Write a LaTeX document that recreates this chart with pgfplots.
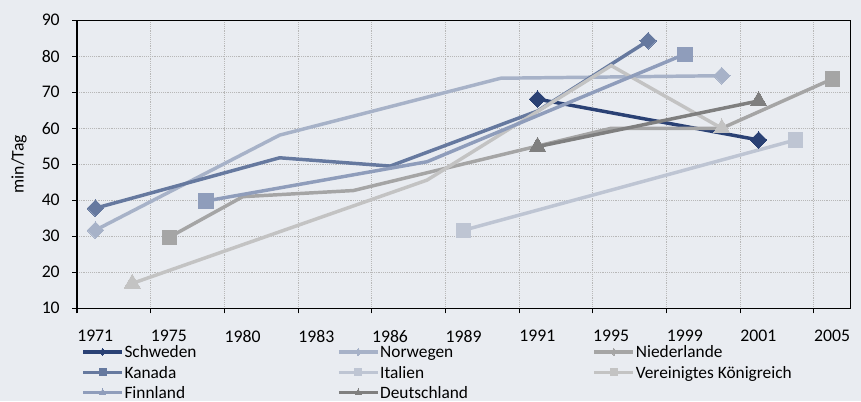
\documentclass[border=0pt]{standalone}
\usepackage{fontspec}
\setmainfont{Carlito}
\usepackage{pgfplots}
\pgfplotsset{compat=1.18}
\definecolor{bg}{HTML}{E9ECF1}
\definecolor{cSE}{HTML}{2A4174}
\definecolor{cNO}{HTML}{A7B2C8}
\definecolor{cNL}{HTML}{A5A5A5}
\definecolor{cCA}{HTML}{66799F}
\definecolor{cIT}{HTML}{BEC5D3}
\definecolor{cUK}{HTML}{C3C3C3}
\definecolor{cFI}{HTML}{8F9DBB}
\definecolor{cDE}{HTML}{7F7F7F}
\pgfplotsset{
  ser/.style={line width=2.6pt, color=#1, mark options={solid, fill=#1, draw=#1, line width=0pt}},
  dia/.style={mark=square*, mark size=4.4pt, every mark/.append style={rotate=45}},
  sq/.style={mark=square*, mark size=5.3pt},
  tri/.style={mark=triangle*, mark size=7pt},
  leg/.style 2 args={legend image code/.code={%
    \draw[line width=2.4pt, color=#1] (0pt,1.4pt) -- (29.25pt,1.4pt);
    \draw[color=#1, fill=#1, line width=0pt, mark=#2, mark size=2.6pt, mark options={rotate=0, fill=#1, draw=#1}] plot coordinates {(14.6pt,1.4pt)};}},
}
\newcommand{\lt}[1]{\makebox[159.5pt][l]{#1}}
\begin{document}
\begin{tikzpicture}[x=1pt,y=1pt]
\fill[bg] (0,0) rectangle (645.75,-300.75);
\begin{axis}[
  at={(57.75pt,-15.2pt)}, anchor=north west,
  scale only axis, width=580.3pt, height=216pt,
  xmin=0, xmax=10.5, ymin=10, ymax=90,
  xtick={0,...,10},
  xticklabels={1971,1975,1980,1983,1986,1989,1991,1995,1999,2001,2005},
  ytick={10,20,...,90},
  tick pos=left, tick align=outside, major tick length=3.75pt,
  tick style={black, line width=0.8pt},
  axis line style={black, line width=0.9pt},
  grid=major, grid style={densely dotted, color=black!28, line width=0.6pt},
  axis background/.style={fill=bg},
  /pgf/number format/assume math mode=true,
  tick label style={font=\fontsize{13.3}{16}\selectfont},
  label style={font=\fontsize{13.3}{16}\selectfont},
  xticklabel style={anchor=north west, inner sep=0pt, yshift=-12.6pt},
  yticklabel style={anchor=east, inner sep=0pt, xshift=-9pt},
  ylabel={min/Tag},
  ylabel style={at={(axis description cs:0,0.5)}, anchor=center, yshift=43.5pt},
  legend columns=3,
  legend cell align=left,
  legend style={at={(0,0)}, anchor=north west, xshift=3.2pt, yshift=-27.6pt,
    draw=none, fill=none, inner sep=0pt, row sep=2.5pt,
    font=\fontsize{13}{15}\selectfont,
    nodes={inner sep=0pt, text height=9.5pt, text depth=3.2pt},
    /tikz/every odd column/.style={column sep=0.6pt},
    /tikz/every even column/.style={column sep=0pt}},
]
% Schweden
\addplot[ser=cSE, dia, mark indices={1,2}, leg={cSE}{diamond*}] coordinates {(6.25,68.1) (9.25,56.75)};
\addlegendentry{\lt{Schweden}}
% Norwegen
\addplot[ser=cNO, dia, mark indices={1,4}, leg={cNO}{diamond*}] coordinates {(0.25,31.7) (2.75,58.1) (5.75,73.9) (8.75,74.6)};
\addlegendentry{\lt{Norwegen}}
% Niederlande
\addplot[ser=cNL, sq, mark indices={1,6}, leg={cNL}{diamond*}] coordinates {(1.25,29.7) (2.25,41) (3.75,42.7) (7.25,60) (8.75,60) (10.25,73.7)};
\addlegendentry{\lt{Niederlande}}
% Kanada
\addplot[ser=cCA, dia, mark indices={1,5}, leg={cCA}{square*}] coordinates {(0.25,37.8) (2.75,51.8) (4.25,49.5) (6.25,64.8) (7.75,84.3)};
\addlegendentry{\lt{Kanada}}
% Italien
\addplot[ser=cIT, sq, mark indices={1,2}, leg={cIT}{square*}] coordinates {(5.25,31.7) (9.75,56.75)};
\addlegendentry{\lt{Italien}}
% Vereinigtes Koenigreich
\addplot[ser=cUK, tri, mark indices={1,4}, leg={cUK}{square*}] coordinates {(0.75,16.9) (4.75,45.6) (7.25,77.4) (8.75,60)};
\addlegendentry{\lt{Vereinigtes Königreich}}
% Finnland
\addplot[ser=cFI, sq, mark indices={1,3}, leg={cFI}{triangle*}] coordinates {(1.75,39.8) (4.75,50.7) (8.25,80.6)};
\addlegendentry{\lt{Finnland}}
% Deutschland
\addplot[ser=cDE, tri, mark indices={1,2}, leg={cDE}{triangle*}] coordinates {(6.25,54.9) (9.25,67.6)};
\addlegendentry{\lt{Deutschland}}
\end{axis}
\pgfresetboundingbox
\useasboundingbox (0,0) rectangle (645.75,-300.75);
\end{tikzpicture}
\end{document}
